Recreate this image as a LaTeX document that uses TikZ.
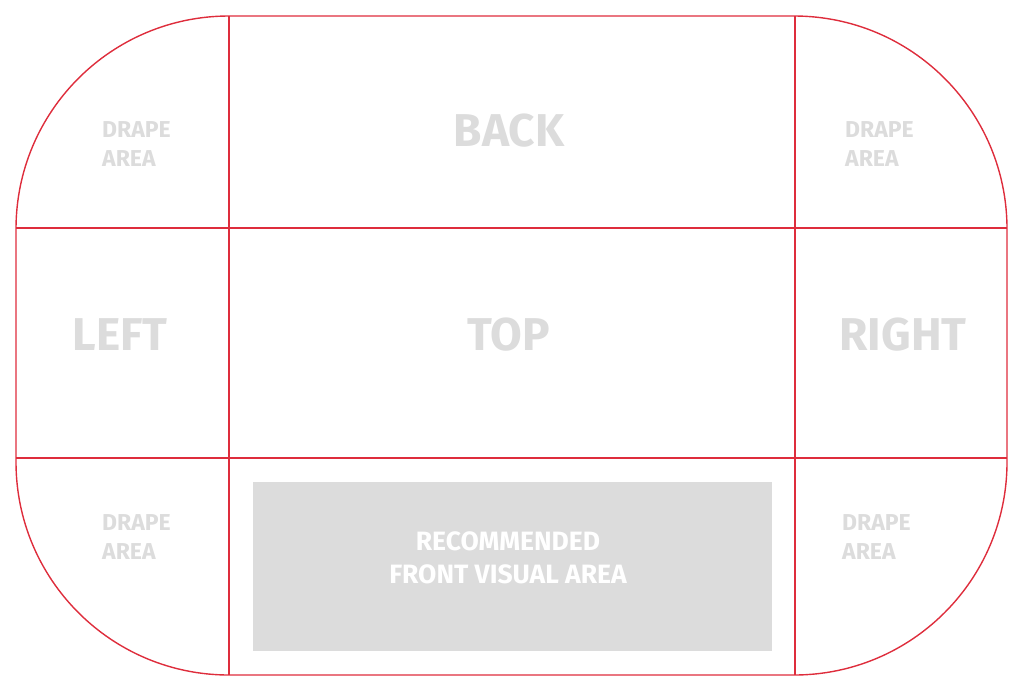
\documentclass[tikz,border=0pt]{standalone}
\usepackage{fontspec}
\setmainfont{Fira Sans}
\definecolor{panelred}{RGB}{222,45,60}
\definecolor{labelgray}{RGB}{220,220,220}
\tikzset{
    outline/.style={draw=panelred, line width=1.4pt},
    biglabel/.style={text=labelgray, font=\fontsize{46}{46}\selectfont\bfseries, anchor=base, inner sep=0pt},
    drapelabel/.style={text=labelgray, font=\fontsize{23}{29.5}\selectfont\bfseries, anchor=north west, align=left, inner sep=0pt},
}

\begin{document}
\begin{tikzpicture}[x=1pt,y=-1pt]
    \useasboundingbox (0,0) rectangle (1024,691);
    \fill[labelgray] (253,482) rectangle (772,651);
    \draw[outline, rounded corners=213pt] (16,16) rectangle (1007,675);
    \draw[outline] (229,16) -- (229,675);
    \draw[outline] (795,16) -- (795,675);
    \draw[outline] (16,228) -- (1007,228);
    \draw[outline] (16,458) -- (1007,458);
    \node[biglabel] at (509,146) (Back) {BACK};
    \node[biglabel] at (509,350) (Top) {TOP};
    \node[biglabel] at (120,350) (Left) {LEFT};
    \node[biglabel] at (903,350) (Right) {RIGHT};
    \node[drapelabel] at (102,121) (DrapeTL) {DRAPE\\AREA};
    \node[drapelabel] at (845,121) (DrapeTR) {DRAPE\\AREA};
    \node[drapelabel] at (102,514) (DrapeBL) {DRAPE\\AREA};
    \node[drapelabel] at (842,514) (DrapeBR) {DRAPE\\AREA};
    \node[text=white, font=\fontsize{26.5}{33}\selectfont\bfseries, align=center, anchor=north, inner sep=0pt] at (508,531) (Front) {RECOMMENDED\\FRONT VISUAL AREA};
\end{tikzpicture}
\end{document}
